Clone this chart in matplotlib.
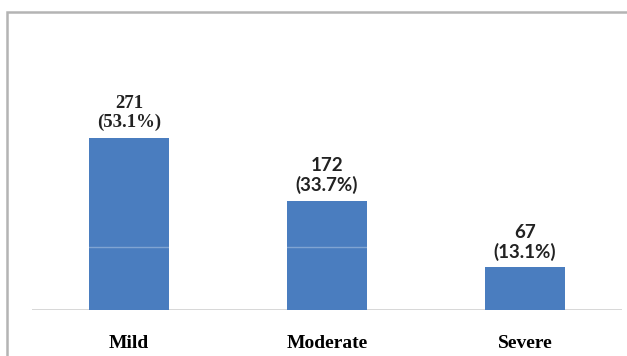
import matplotlib.pyplot as plt
from matplotlib.patches import Rectangle

categories = ["Mild", "Moderate", "Severe"]
counts = [271, 172, 67]
percents = [53.1, 33.7, 13.1]
# first label is in a serif face in the original, the other two in a sans face
label_fonts = ["Liberation Serif", "Lato", "Lato"]

fig = plt.figure(figsize=(6.27, 3.56), dpi=100)

# outer chart frame (only the left and top edges show in the crop)
fig.patches.append(Rectangle((7 / 627, -0.1), 1.0, (356 - 12) / 356 + 0.1,
                             transform=fig.transFigure, fill=False,
                             edgecolor="#b4b4b4", linewidth=1.8))

ax = fig.add_axes([32 / 627, 46 / 356, 590 / 627, 254 / 356])
x = list(range(len(categories)))
ax.bar(x, counts, width=0.4, color="#4a7dbf", zorder=2)
ax.axhline(100, color="white", alpha=0.3, linewidth=1, zorder=3)
ax.axhline(0, color="#d4d4d4", linewidth=2, zorder=1)

ax.set_xlim(-0.49, 2.49)
ax.set_ylim(0, 400)
for s in ax.spines.values():
    s.set_visible(False)
ax.set_yticks([])
ax.set_xticks(x)
ax.set_xticklabels(categories, family="Liberation Serif", fontweight="bold",
                   fontsize=14)
ax.tick_params(axis="x", length=0, pad=18)

for xi, c, p, f in zip(x, counts, percents, label_fonts):
    ax.annotate(f"{c}\n({p}%)", (xi, c), xytext=(0, 5), textcoords="offset points",
                ha="center", va="bottom", family=f, fontweight="bold",
                fontsize=13.5, color="#222222", linespacing=1.1)

fig.savefig("out.png", dpi=100)
